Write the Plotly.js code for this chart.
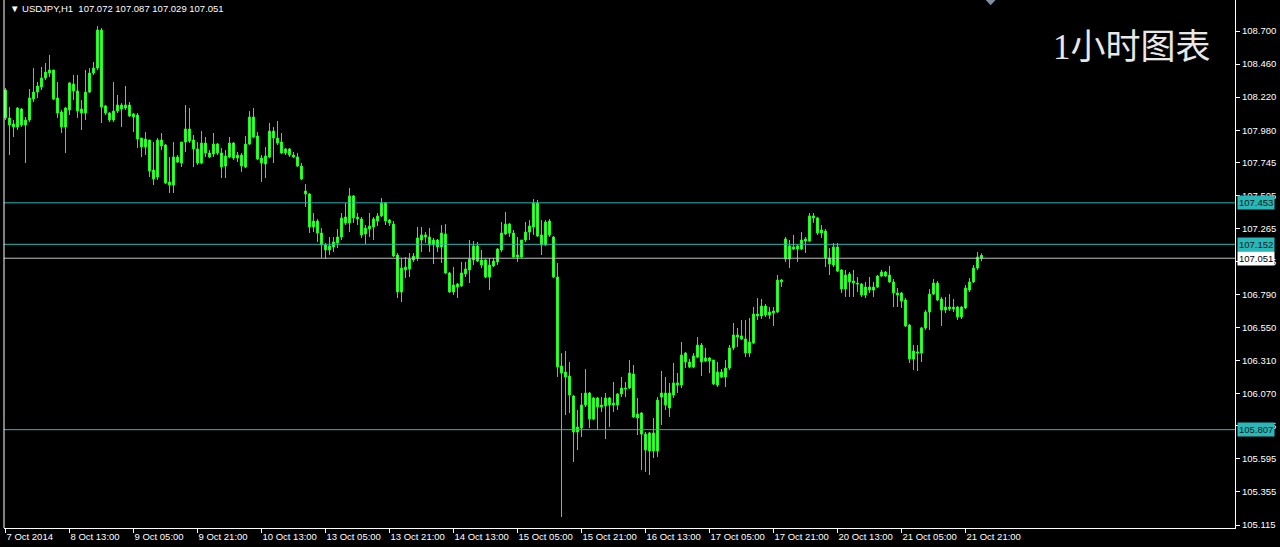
<!DOCTYPE html>
<html>
<head>
<meta charset="utf-8">
<script src="https://cdn.plot.ly/plotly-3.0.1.min.js"></script>
<style>html,body{margin:0;padding:0;background:#000;}#chart{width:1280px;height:547px;}</style>
</head>
<body>
<div id="chart"></div>
<script>
const opens = [108.272,108.069,108.025,108.003,108.134,108.018,108.054,108.207,108.257,108.294,108.359,108.395,108.417,108.214,108.112,108.003,108.127,108.315,108.265,108.105,108.105,108.257,108.395,108.431,108.707,108.156,108.105,108.054,108.119,108.163,108.141,108.163,108.076,108.090,107.923,107.858,107.909,107.691,107.640,107.909,107.873,107.604,107.582,107.786,107.742,107.894,107.989,107.909,107.844,107.742,107.887,107.815,107.807,107.880,107.815,107.720,107.786,107.887,107.778,107.800,107.713,107.880,108.076,107.938,107.778,107.735,107.786,107.974,107.923,107.894,107.815,107.844,107.800,107.786,107.720,107.539,107.517,107.278,107.321,107.234,107.147,107.111,107.133,107.162,107.205,107.350,107.307,107.503,107.350,107.336,107.227,107.263,107.278,107.321,107.358,107.452,107.328,107.299,107.074,106.806,106.987,106.973,107.038,107.053,107.183,107.220,107.205,107.147,107.183,107.133,107.227,106.944,106.806,106.864,106.850,106.937,106.966,107.038,107.140,107.038,107.038,106.915,106.995,107.024,107.111,107.227,107.299,107.234,107.060,107.060,107.183,107.241,107.278,107.452,107.220,107.147,107.321,107.205,106.915,106.269,106.225,106.196,106.051,105.790,105.819,105.986,106.073,105.884,106.037,105.971,105.979,106.037,105.986,105.986,106.066,106.109,106.109,106.211,105.892,105.928,105.775,105.652,105.783,105.652,106.044,106.073,105.964,106.058,106.146,106.131,106.363,106.298,106.262,106.334,106.421,106.305,106.327,106.312,106.131,106.225,106.189,106.254,106.400,106.494,106.487,106.465,106.363,106.436,106.646,106.632,106.704,106.639,106.668,106.661,106.893,107.191,107.045,107.133,107.118,107.118,107.176,107.176,107.358,107.343,107.234,107.249,107.053,107.002,107.133,106.966,106.828,106.937,106.886,106.871,106.864,106.784,106.842,106.820,106.842,106.922,106.951,106.929,106.879,106.799,106.799,106.748,106.566,106.320,106.371,106.363,106.545,106.661,106.791,106.871,106.755,106.675,106.697,106.683,106.697,106.625,106.690,106.820,106.879,106.980,107.072];
const highs = [108.286,108.148,108.054,108.148,108.141,108.076,108.279,108.431,108.330,108.439,108.468,108.526,108.417,108.330,108.127,108.148,108.330,108.381,108.381,108.199,108.417,108.431,108.475,108.736,108.722,108.163,108.112,108.330,108.236,108.177,108.301,108.185,108.105,108.105,107.923,107.967,107.909,107.894,107.923,107.960,107.880,107.786,107.894,107.800,107.894,108.163,108.141,107.945,107.894,107.974,107.931,107.836,107.960,107.887,107.851,107.836,107.931,107.894,107.822,107.815,107.938,108.119,108.141,107.967,107.800,107.858,108.032,108.003,108.047,107.960,107.851,107.851,107.822,107.815,107.742,107.590,107.524,107.379,107.336,107.270,107.162,107.205,107.205,107.263,107.379,107.452,107.561,107.510,107.379,107.350,107.292,107.379,107.350,107.379,107.488,107.459,107.336,107.321,107.089,107.053,107.060,107.089,107.089,107.278,107.278,107.241,107.270,107.198,107.191,107.292,107.299,106.951,106.987,106.871,107.024,107.024,107.183,107.176,107.169,107.111,107.045,107.053,107.053,107.125,107.314,107.387,107.307,107.256,107.205,107.183,107.314,107.328,107.481,107.474,107.328,107.328,107.336,107.212,107.016,106.363,106.378,106.298,106.058,105.950,106.073,106.247,106.080,106.044,106.044,106.044,106.073,106.044,106.153,106.073,106.189,106.153,106.312,106.276,106.037,105.935,105.790,105.790,105.892,106.044,106.233,106.189,106.146,106.291,106.218,106.443,106.371,106.320,106.363,106.479,106.436,106.400,106.334,106.312,106.298,106.247,106.312,106.421,106.581,106.545,106.603,106.603,106.617,106.697,106.762,106.755,106.719,106.697,106.697,106.929,106.900,107.205,107.183,107.220,107.147,107.241,107.205,107.379,107.379,107.350,107.292,107.263,107.125,107.162,107.162,106.973,106.966,106.951,106.966,106.915,106.871,106.879,106.915,106.879,106.929,106.966,106.958,106.995,106.900,106.835,106.806,106.762,106.574,106.421,106.421,106.552,106.675,106.828,106.900,106.886,106.770,106.770,106.791,106.755,106.704,106.704,106.857,106.907,107.002,107.096,107.087];
const lows = [108.054,107.800,107.931,107.982,108.003,107.742,108.040,108.185,108.214,108.272,108.344,108.366,108.199,108.069,107.960,107.815,108.090,108.199,108.069,107.982,108.054,108.250,108.381,108.417,108.032,108.090,108.040,108.040,108.105,108.003,108.127,108.076,107.967,107.851,107.786,107.800,107.640,107.582,107.619,107.836,107.590,107.524,107.524,107.742,107.713,107.822,107.887,107.713,107.728,107.735,107.786,107.778,107.786,107.800,107.633,107.633,107.778,107.764,107.749,107.677,107.706,107.873,107.923,107.764,107.604,107.633,107.778,107.742,107.873,107.807,107.800,107.786,107.778,107.713,107.619,107.423,107.234,107.241,107.169,107.053,107.045,107.074,107.096,107.125,107.183,107.292,107.241,107.307,107.292,107.198,107.154,107.205,107.183,107.285,107.350,107.292,107.285,107.060,106.762,106.733,106.907,106.915,107.024,107.031,107.096,107.162,107.096,107.009,107.096,107.016,106.937,106.799,106.784,106.762,106.842,106.915,106.871,107.002,107.024,106.980,106.907,106.820,106.987,107.002,107.096,107.220,107.205,107.053,107.024,107.053,107.169,107.183,107.220,107.205,107.074,107.140,107.205,106.907,106.189,105.173,105.913,105.928,105.572,105.659,105.754,105.971,105.819,105.877,105.804,105.935,105.739,105.826,105.935,105.950,106.044,106.044,106.102,105.892,105.768,105.514,105.500,105.478,105.601,105.609,105.841,105.950,105.899,106.037,106.073,106.109,106.254,106.254,106.254,106.327,106.196,106.298,106.218,106.131,106.117,106.182,106.117,106.240,106.385,106.407,106.458,106.334,106.334,106.429,106.603,106.610,106.625,106.610,106.559,106.653,106.842,107.024,106.980,107.111,107.024,107.111,107.089,107.169,107.307,107.220,107.198,106.987,106.929,106.987,106.951,106.799,106.770,106.770,106.770,106.806,106.770,106.762,106.799,106.770,106.835,106.915,106.915,106.871,106.697,106.697,106.690,106.552,106.291,106.240,106.233,106.298,106.530,106.530,106.784,106.741,106.559,106.653,106.668,106.661,106.603,106.610,106.683,106.806,106.871,106.966,107.029];
const closes = [108.069,108.018,108.003,108.141,108.018,108.054,108.214,108.257,108.301,108.359,108.402,108.417,108.207,108.105,108.003,108.141,108.323,108.265,108.119,108.134,108.257,108.395,108.431,108.707,108.148,108.105,108.054,108.119,108.163,108.134,108.163,108.083,108.098,107.916,107.858,107.916,107.684,107.626,107.909,107.866,107.597,107.582,107.786,107.749,107.894,107.989,107.902,107.844,107.742,107.887,107.815,107.786,107.880,107.815,107.713,107.793,107.887,107.778,107.800,107.720,107.880,108.076,107.931,107.771,107.742,107.793,107.974,107.923,107.887,107.815,107.844,107.800,107.786,107.720,107.626,107.517,107.278,107.321,107.234,107.147,107.111,107.140,107.169,107.205,107.343,107.307,107.503,107.343,107.336,107.220,107.270,107.285,107.336,107.358,107.452,107.321,107.307,107.067,106.806,106.980,106.966,107.045,107.067,107.198,107.220,107.205,107.147,107.183,107.133,107.234,106.944,106.806,106.857,106.842,106.944,106.973,107.045,107.140,107.031,107.002,106.915,107.002,107.031,107.118,107.234,107.299,107.234,107.060,107.074,107.183,107.241,107.285,107.452,107.212,107.147,107.314,107.220,106.915,106.262,106.218,106.189,106.058,105.790,105.826,105.986,106.073,105.884,106.037,105.971,105.986,106.037,105.986,106.000,106.066,106.109,106.102,106.218,105.899,105.921,105.775,105.659,105.783,105.652,106.022,106.073,105.986,106.073,106.146,106.131,106.349,106.298,106.262,106.342,106.421,106.298,106.327,106.305,106.138,106.225,106.189,106.254,106.400,106.494,106.479,106.465,106.363,106.443,106.646,106.632,106.704,106.639,106.661,106.653,106.893,106.879,107.045,107.140,107.118,107.140,107.183,107.191,107.358,107.343,107.234,107.256,107.053,107.009,107.133,106.958,106.828,106.929,106.879,106.871,106.864,106.784,106.842,106.820,106.842,106.922,106.951,106.922,106.879,106.799,106.784,106.741,106.559,106.320,106.378,106.363,106.545,106.661,106.791,106.871,106.748,106.675,106.697,106.683,106.697,106.625,106.697,106.835,106.879,106.980,107.060,107.051];

const timeTickIndex = [0,16,32,48,64,80,96,112,128,144,160,176,192,208,224,240];
const timeTickLabels = ["7 Oct 2014","8 Oct 13:00","9 Oct 05:00","9 Oct 21:00","10 Oct 13:00","13 Oct 05:00","13 Oct 21:00","14 Oct 13:00","15 Oct 05:00","15 Oct 21:00","16 Oct 13:00","17 Oct 05:00","17 Oct 21:00","20 Oct 13:00","21 Oct 05:00","21 Oct 21:00"];
const priceTicks = [108.700,108.460,108.220,107.980,107.745,107.505,107.265,107.025,106.790,106.550,106.310,106.070,105.835,105.595,105.355,105.115];
const levelLines = [107.453,107.152,105.807];
const currentPrice = 107.051;
const symbolLabel = "USDJPY,H1";
const lastBar = [107.072,107.087,107.029,107.051];
const cornerText = "1小时图表";

const xIdx = opens.map((_, i) => i);
const GREEN = '#1aff1a';
const TEAL = '#2ab7b7';

const trace = {
  type: 'candlestick',
  x: xIdx, open: opens, high: highs, low: lows, close: closes,
  increasing: {line: {color: GREEN, width: 1}, fillcolor: '#70ff70'},
  decreasing: {line: {color: GREEN, width: 1}, fillcolor: '#70ff70'},
  whiskerwidth: 0,
  hoverinfo: 'skip',
  showlegend: false
};

const shapes = [];
levelLines.forEach(v => shapes.push({type:'line', xref:'paper', x0:0, x1:1, yref:'y', y0:v, y1:v, line:{color:TEAL, width:1}}));
shapes.push({type:'line', xref:'paper', x0:0, x1:1, yref:'y', y0:currentPrice, y1:currentPrice, line:{color:'#c0c0c0', width:1}});
shapes.push({type:'line', xref:'paper', x0:0, x1:0, yref:'paper', y0:0, y1:1, line:{color:'#ffffff', width:1}});
shapes.push({type:'path', xref:'paper', yref:'paper', path:'M 0.7975 1 L 0.8055 1 L 0.8015 0.99 Z', fillcolor:'#8090a0', line:{width:0}});

const annotations = [];
levelLines.forEach(v => annotations.push({
  xref:'paper', x:1, xanchor:'left', xshift:2, yref:'y', y:v, yanchor:'middle',
  text: v.toFixed(3), showarrow:false, bgcolor:TEAL, borderpad:1,
  font:{family:'Liberation Sans, Arial, sans-serif', size:9.5, color:'#102020'}
}));
annotations.push({
  xref:'paper', x:1, xanchor:'left', xshift:2, yref:'y', y:currentPrice, yanchor:'middle',
  text: currentPrice.toFixed(3), showarrow:false, bgcolor:'#ffffff', borderpad:1,
  font:{family:'Liberation Sans, Arial, sans-serif', size:9.5, color:'#000000'}
});
annotations.push({
  xref:'paper', x:0, xanchor:'left', xshift:4, yref:'paper', y:1, yanchor:'top', yshift:-1,
  text: '▼ ' + symbolLabel + '  ' + lastBar.map(v => v.toFixed(3)).join(' '),
  showarrow:false, font:{family:'Liberation Sans, Arial, sans-serif', size:9.5, color:'#ffffff'}
});
annotations.push({
  xref:'paper', x:0.982, xanchor:'right', yref:'paper', y:0.95, yanchor:'top',
  text: cornerText, showarrow:false,
  font:{family:'Liberation Serif, Noto Sans CJK SC, serif', size:35, color:'#e8e8e8'}
});

const layout = {
  width:1280, height:547,
  margin:{l:4, r:45, t:0, b:19, pad:0},
  paper_bgcolor:'#000000', plot_bgcolor:'#000000',
  showlegend:false,
  xaxis:{
    range:[-0.375, 307.375], rangeslider:{visible:false},
    tickmode:'array', tickvals:timeTickIndex, ticktext:timeTickLabels,
    ticks:'outside', ticklen:4, tickcolor:'#ffffff', tickwidth:1,
    ticklabelposition:'outside right',
    showgrid:false, zeroline:false, showline:true, linecolor:'#ffffff', linewidth:1,
    tickfont:{family:'Liberation Sans, Arial, sans-serif', size:9.5, color:'#ffffff'},
    fixedrange:true
  },
  yaxis:{
    side:'right', range:[105.0933, 108.925],
    tickmode:'array', tickvals:priceTicks, ticktext:priceTicks.map(v => v.toFixed(3)),
    ticks:'outside', ticklen:4, tickcolor:'#ffffff', tickwidth:1,
    showgrid:false, zeroline:false, showline:true, linecolor:'#ffffff', linewidth:1,
    tickfont:{family:'Liberation Sans, Arial, sans-serif', size:9.5, color:'#ffffff'},
    fixedrange:true
  },
  shapes: shapes,
  annotations: annotations
};

Plotly.newPlot('chart', [trace], layout, {staticPlot:true, displayModeBar:false});
</script>
</body>
</html>
